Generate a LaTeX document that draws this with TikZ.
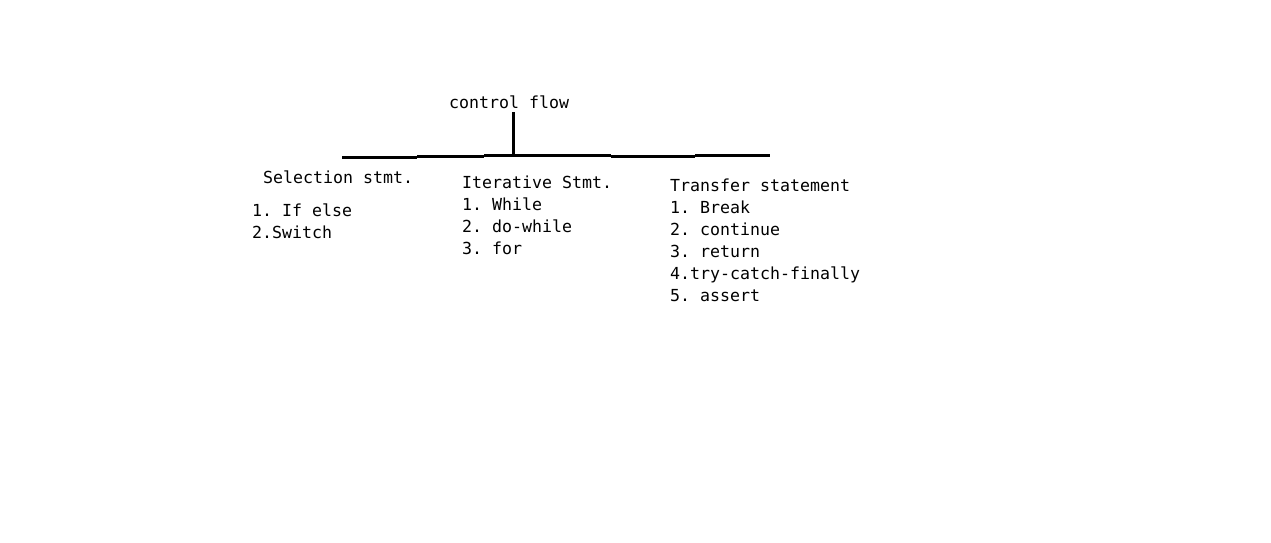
\documentclass[tikz,border=0pt]{standalone}
\usepackage{fontspec}
\setmonofont{DejaVu Sans Mono}
\begin{document}
\begin{tikzpicture}[x=1pt,y=-1pt,
    listtext/.style={anchor=base west,inner sep=0pt,
        font=\ttfamily\fontsize{16.6}{22}\selectfont},
    bar/.style={line width=3pt}]
        % Draw paper background
        \useasboundingbox[fill=white] (0,0) rectangle (1271,542);
        % Draw root
        \node[listtext] (root) at (449,108) {control flow};
        % Draw stem and bar
        \coordinate (stemtop) at (513,112);
        \coordinate (stem) at (513,155);
        \draw[bar] (stemtop) -- (stem);
        \draw[bar] (342,157) -- (417,157);
        \draw[bar] (417,156) -- (484,156);
        \draw[bar] (484,155) -- (611,155);
        \draw[bar] (611,156) -- (695,156);
        \draw[bar] (695,155) -- (770,155);
        % Draw selection
        \node[listtext] (selection) at (263,183) {Selection stmt.};
        \foreach \entry [count=\i] in {1. If else,2.Switch}
            \node[listtext] (selection\i) at (252,194+22*\i) {\entry};
        % Draw iterative
        \node[listtext] (iterative) at (462,188) {Iterative Stmt.};
        \foreach \entry [count=\i] in {1. While,2. do-while,3. for}
            \node[listtext] (iterative\i) at (462,188+22*\i) {\entry};
        % Draw transfer
        \node[listtext] (transfer) at (670,191) {Transfer statement};
        \foreach \entry [count=\i] in {1. Break,2. continue,3. return,4.try-catch-finally,5. assert}
            \node[listtext] (transfer\i) at (670,191+22*\i) {\entry};
    \end{tikzpicture}
\end{document}
